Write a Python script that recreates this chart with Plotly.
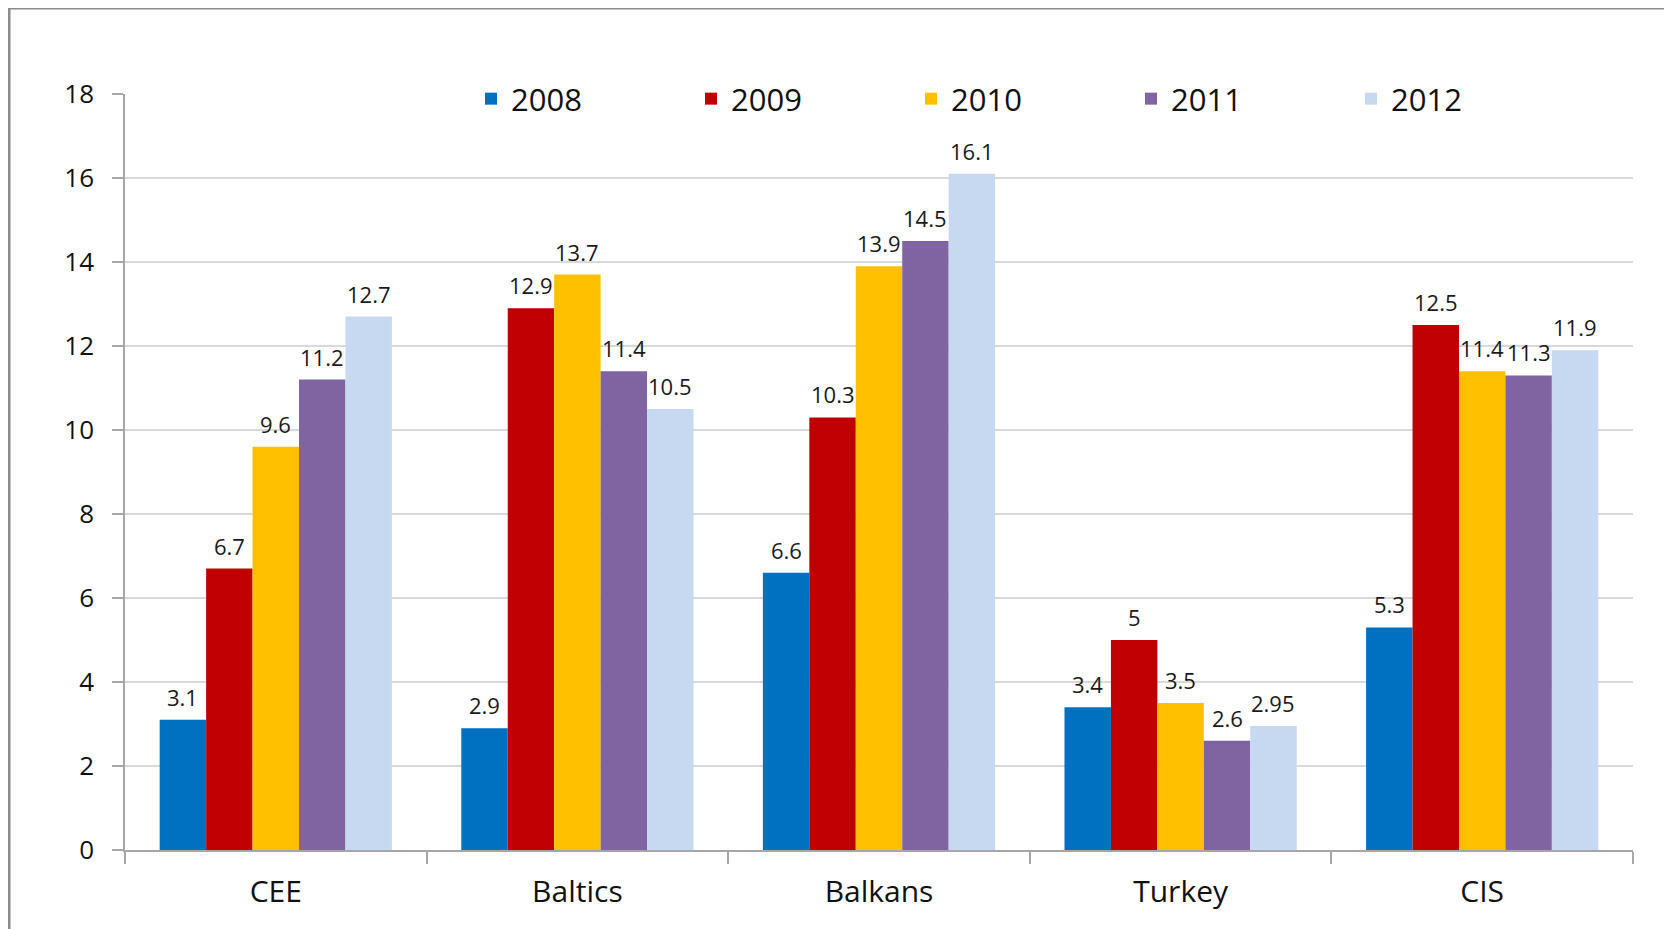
import plotly.graph_objects as go

categories = ["CEE", "Baltics", "Balkans", "Turkey", "CIS"]
years = ["2008", "2009", "2010", "2011", "2012"]
v2008 = [3.1, 2.9, 6.6, 3.4, 5.3]
v2009 = [6.7, 12.9, 10.3, 5, 12.5]
v2010 = [9.6, 13.7, 13.9, 3.5, 11.4]
v2011 = [11.2, 11.4, 14.5, 2.6, 11.3]
v2012 = [12.7, 10.5, 16.1, 2.95, 11.9]
series = [v2008, v2009, v2010, v2011, v2012]
colors = ["#0070C0", "#C00000", "#FFC000", "#8064A2", "#C6D9F1"]
y_ticks = [0, 2, 4, 6, 8, 10, 12, 14, 16, 18]

# page has an 8px body margin, so the figure is 8px smaller on each side
W, H = 1664, 921
ML, MR, MT, MB = 117, 39, 86, 79
BARGAP = 0.23
FONT = "Open Sans"

fig = go.Figure()
for name, vals, col in zip(years, series, colors):
    fig.add_trace(go.Bar(
        name=name, x=categories, y=vals,
        marker=dict(color=col, line=dict(width=0)),
    ))

# data labels above each bar
plot_w = W - ML - MR
plot_h = H - MT - MB
cat_w = plot_w / len(categories)
bar_px = cat_w * (1 - BARGAP) / len(years)
annotations = []
for i, vals in enumerate(series):
    for cat, v in zip(categories, vals):
        annotations.append(dict(
            x=cat, y=v, xref="x", yref="y", text=f"{v:g}",
            showarrow=False, xanchor="center", yanchor="bottom",
            xshift=(i - (len(years) - 1) / 2) * bar_px, yshift=6,
            font=dict(family=FONT, size=22, color="#1a1a1a"),
        ))

fig.update_layout(
    width=W, height=H,
    margin=dict(l=ML, r=MR, t=MT, b=MB, autoexpand=False),
    paper_bgcolor="white", plot_bgcolor="white",
    barmode="group", bargap=BARGAP, bargroupgap=0,
    font=dict(family=FONT, color="#111111"),
    annotations=annotations,
    legend=dict(
        orientation="h", x=(463 - ML) / plot_w, xanchor="left",
        y=(842 - 91) / plot_h, yanchor="middle",
        entrywidth=175, entrywidthmode="pixels",
        font=dict(family=FONT, size=31, color="#111111"),
        bgcolor="rgba(0,0,0,0)", borderwidth=0,
        traceorder="normal",
    ),
    xaxis=dict(
        showline=True, linecolor="#A6A6A6", linewidth=1.5,
        ticks="outside", tickson="boundaries", ticklen=12,
        tickcolor="#A6A6A6", tickwidth=1.5,
        showgrid=False, ticklabelstandoff=14,
        tickfont=dict(family=FONT, size=30, color="#111111"),
    ),
    yaxis=dict(
        range=[0, 18], tickvals=y_ticks,
        showline=True, linecolor="#A6A6A6", linewidth=1.5,
        ticks="outside", ticklen=11, tickcolor="#A6A6A6", tickwidth=1.5,
        showgrid=True, gridcolor="#D9D9D9", gridwidth=1.5,
        zeroline=False, ticklabelstandoff=13,
        tickfont=dict(family=FONT, size=26, color="#111111"),
    ),
    shapes=[dict(
        type="rect", xref="paper", yref="paper",
        x0=(1 - ML) / plot_w, x1=(1662 - ML) / plot_w,
        y0=(842 - 940) / plot_h, y1=(842 - 0) / plot_h,
        line=dict(color="#8C8C8C", width=3), fillcolor="rgba(0,0,0,0)",
        layer="below",
    )],
)

fig.write_html("out.html")
